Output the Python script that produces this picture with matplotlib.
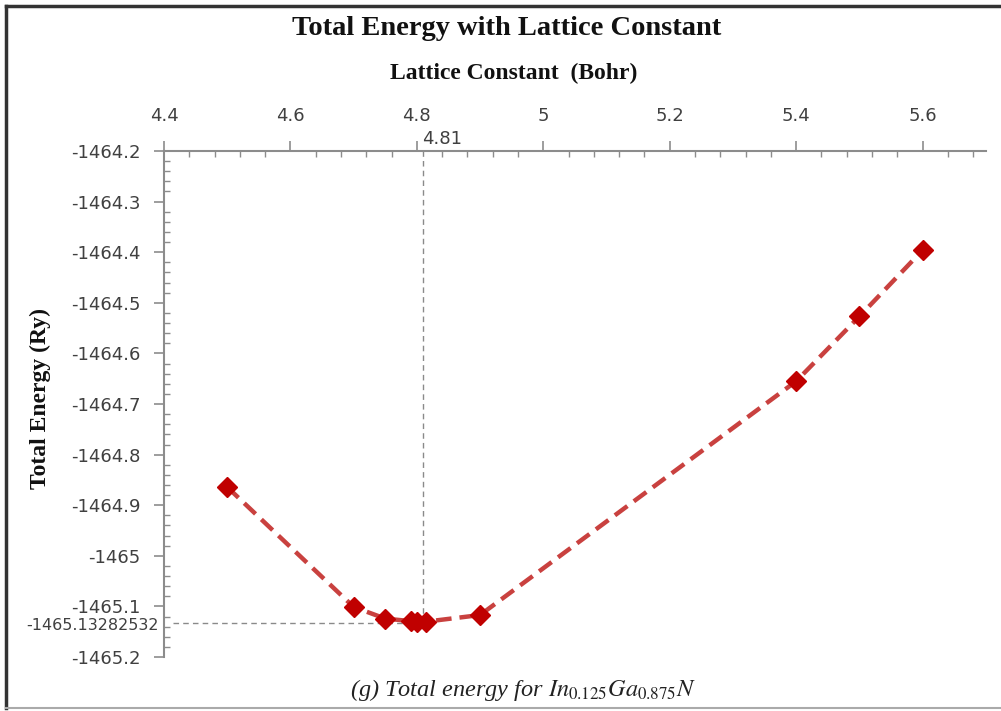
import numpy as np
import matplotlib.pyplot as plt
from matplotlib.lines import Line2D
from matplotlib.ticker import MultipleLocator

# Données
lattice = [4.5, 4.7, 4.75, 4.79, 4.80, 4.815, 4.9, 5.4, 5.5, 5.6]  # Bohr
energy = [-1464.864, -1465.101, -1465.124, -1465.129, -1465.131, -1465.130,
          -1465.117, -1464.655, -1464.527, -1464.396]  # Ry
a_min = 4.81
E_min = -1465.13282532

x_ticks = [4.4, 4.6, 4.8, 5.0, 5.2, 5.4, 5.6]
x_labels = ['4.4', '4.6', '4.8', '5', '5.2', '5.4', '5.6']
y_ticks = [-1464.2, -1464.3, -1464.4, -1464.5, -1464.6, -1464.7, -1464.8,
           -1464.9, -1465.0, -1465.1, -1465.2]
y_labels = ['-1464.2', '-1464.3', '-1464.4', '-1464.5', '-1464.6', '-1464.7',
            '-1464.8', '-1464.9', '-1465', '-1465.1', '-1465.2']

plt.rcParams['mathtext.fontset'] = 'stix'
serif = 'Liberation Serif'
tick_col = '#404040'

fig = plt.figure(figsize=(10.01, 7.11), dpi=100)
ax = fig.add_axes([0.1638, 0.0759, 0.821, 0.7117])

ax.plot(lattice, energy, color='#C9413F', lw=3.2, dashes=(3.5, 1.8),
        marker='D', ms=10.5, mfc='#C00000', mec='#C00000', zorder=3)

# lignes de repère du minimum
ax.plot([a_min, a_min], [E_min, -1464.2], color='#8a8a8a', lw=1, dashes=(4, 3), zorder=2)
ax.plot([4.415, a_min], [E_min, E_min], color='#8a8a8a', lw=1, dashes=(4, 3), zorder=2)

ax.set_xlim(4.4, 5.7)
ax.set_ylim(-1465.2, -1464.2)

ax.xaxis.tick_top()
ax.set_xticks(x_ticks)
ax.set_xticklabels(x_labels)
ax.set_yticks(y_ticks)
ax.set_yticklabels(y_labels)
ax.xaxis.set_minor_locator(MultipleLocator(0.04))
ax.yaxis.set_minor_locator(MultipleLocator(0.02))

ax.tick_params(which='major', direction='out', length=7, width=1.2,
               color='#8c8c8c', labelcolor=tick_col, labelsize=13)
ax.tick_params(axis='x', which='major', pad=12)
ax.tick_params(axis='y', which='major', pad=10)
ax.tick_params(which='minor', direction='in', length=4.5, width=1, color='#8c8c8c')
ax.tick_params(axis='x', which='minor', top=True, bottom=False)

for s in ['right', 'bottom']:
    ax.spines[s].set_visible(False)
for s in ['top', 'left']:
    ax.spines[s].set_color('#8c8c8c')
    ax.spines[s].set_linewidth(1.5)

# étiquettes du minimum
ax.annotate('4.81', xy=(a_min, -1464.2), xytext=(-1, 2), textcoords='offset points',
            ha='left', va='bottom', fontsize=13, color=tick_col)
ax.annotate('-1465.13282532', xy=(0, E_min), xycoords=('axes fraction', 'data'),
            xytext=(-4, -2), textcoords='offset points', ha='right', va='center',
            fontsize=11.5, color=tick_col)

fig.text(0.506, 0.960, 'Total Energy with Lattice Constant', ha='center', va='center',
         fontsize=20.5, fontweight='bold', family=serif, color='#111111')
fig.text(0.513, 0.897, 'Lattice Constant  (Bohr)', ha='center', va='center',
         fontsize=17, fontweight='bold', family=serif, color='#111111')
fig.text(0.040, 0.44, 'Total Energy (Ry)', ha='center', va='center', rotation=90,
         fontsize=17, fontweight='bold', family=serif, color='#111111')
fig.text(0.523, 0.030, r'(g) Total energy for $In_{0.125}Ga_{0.875}N$', ha='center',
         va='center', fontsize=17.5, style='italic', family=serif, color='#222222')

# cadre de l'image
fig.add_artist(Line2D([0.006, 0.006], [0.004, 0.992], color='#333333', lw=2.5))
fig.add_artist(Line2D([0.006, 1.0], [0.992, 0.992], color='#333333', lw=2.5))
fig.add_artist(Line2D([0.006, 1.0], [0.004, 0.004], color='#aaaaaa', lw=1.5))

fig.savefig('out.png', dpi=100)
